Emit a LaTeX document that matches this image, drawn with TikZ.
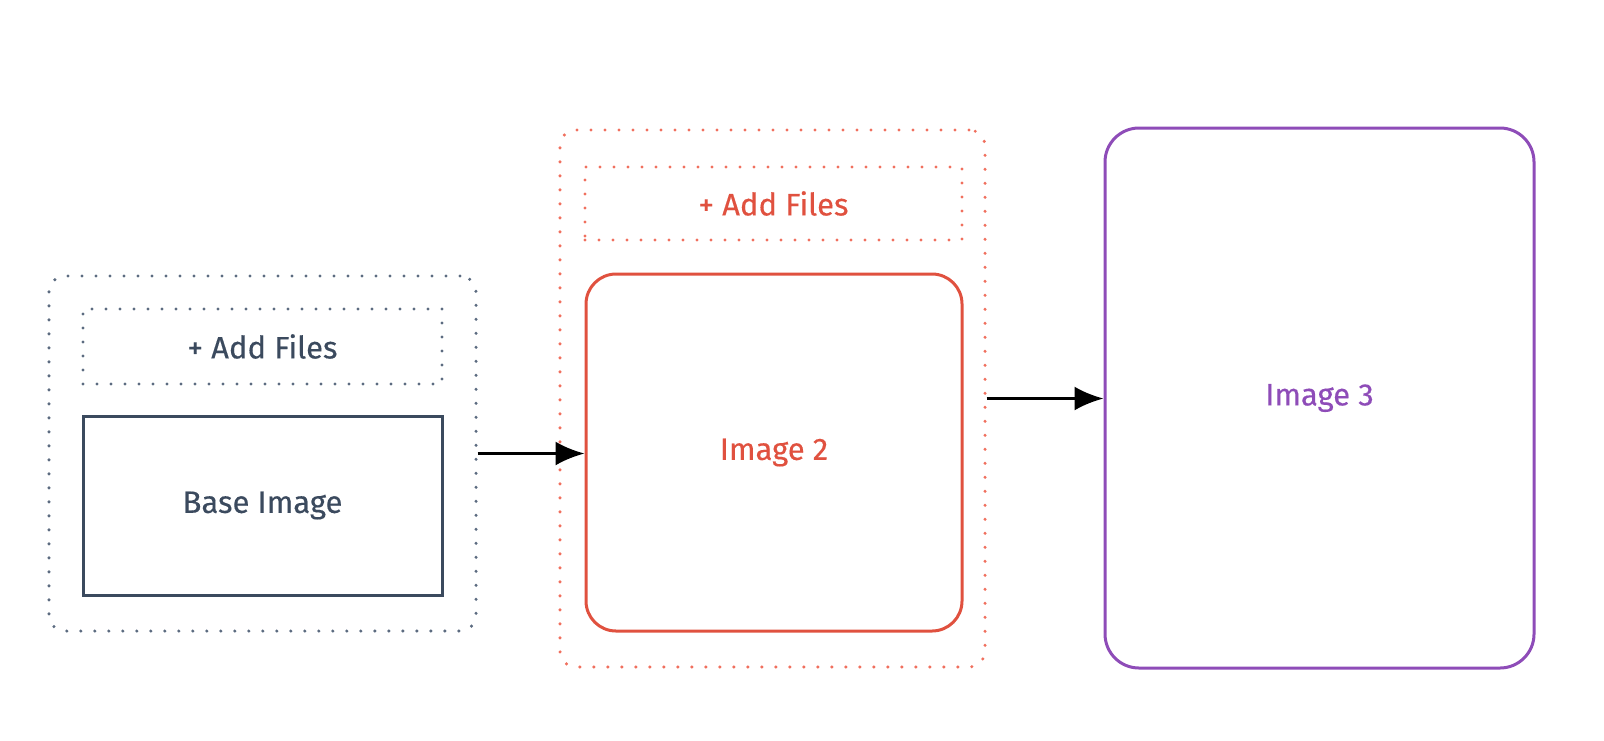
\documentclass[tikz,border=0pt]{standalone}
\usepackage{fontspec}
\setmainfont{Fira Sans}
\newfontfamily\lblfont{Fira Sans}[FakeBold=0.35]
\usetikzlibrary{arrows.meta}
\definecolor{slate}{HTML}{3B4A5E}
\definecolor{slatedot}{HTML}{5C6B80}
\definecolor{redl}{HTML}{E0513F}
\definecolor{reddot}{HTML}{F0705E}
\definecolor{purp}{HTML}{8E4CB8}
\begin{document}
\begin{tikzpicture}[x=0.5pt,y=-0.5pt,
  lbl/.style={font=\lblfont\fontsize{15.5}{18}\selectfont},
  dotbox/.style={draw, line width=1.7pt, line cap=round, dash pattern=on 0pt off 7pt, inner sep=0pt},
  solidbox/.style={draw, line width=1.5pt, inner sep=0pt, lbl},
  arr/.style={-{Latex[length=14.5pt,width=12pt]}, line width=1.5pt, black}]
\useasboundingbox (0,0) rectangle (1604,740);
% group 1
\node[dotbox, slatedot, rounded corners=8pt, minimum width=213.5pt, minimum height=177.5pt] (g1) at (262.5,453.5) {};
\node[dotbox, slatedot, minimum width=179.5pt, minimum height=37.5pt, text=slate, lbl] (add1) at (262.5,346.5) {+ Add Files};
\node[solidbox, slate, minimum width=179.5pt, minimum height=89.5pt] (base) at (262.5,505.5) {Base Image};
% group 2
\node[dotbox, reddot, rounded corners=8pt, minimum width=212.5pt, minimum height=268.5pt] (g2) at (772.5,398.5) {};
\node[dotbox, reddot, minimum width=188.5pt, minimum height=36.5pt, text=redl, lbl] (add2) at (773.5,203.5) {+ Add Files};
\node[solidbox, redl, rounded corners=15pt, minimum width=188pt, minimum height=178.5pt] (img2) at (774,452.5) {Image 2};
% image 3
\node[solidbox, purp, rounded corners=17pt, minimum width=214.5pt, minimum height=270pt] (img3) at (1319.5,398) {Image 3};
% arrows
\draw[arr] (g1.east) -- (g1.east -| img2.west);
\draw[arr] (g2.east) -- (g2.east -| img3.west);
\end{tikzpicture}
\end{document}
